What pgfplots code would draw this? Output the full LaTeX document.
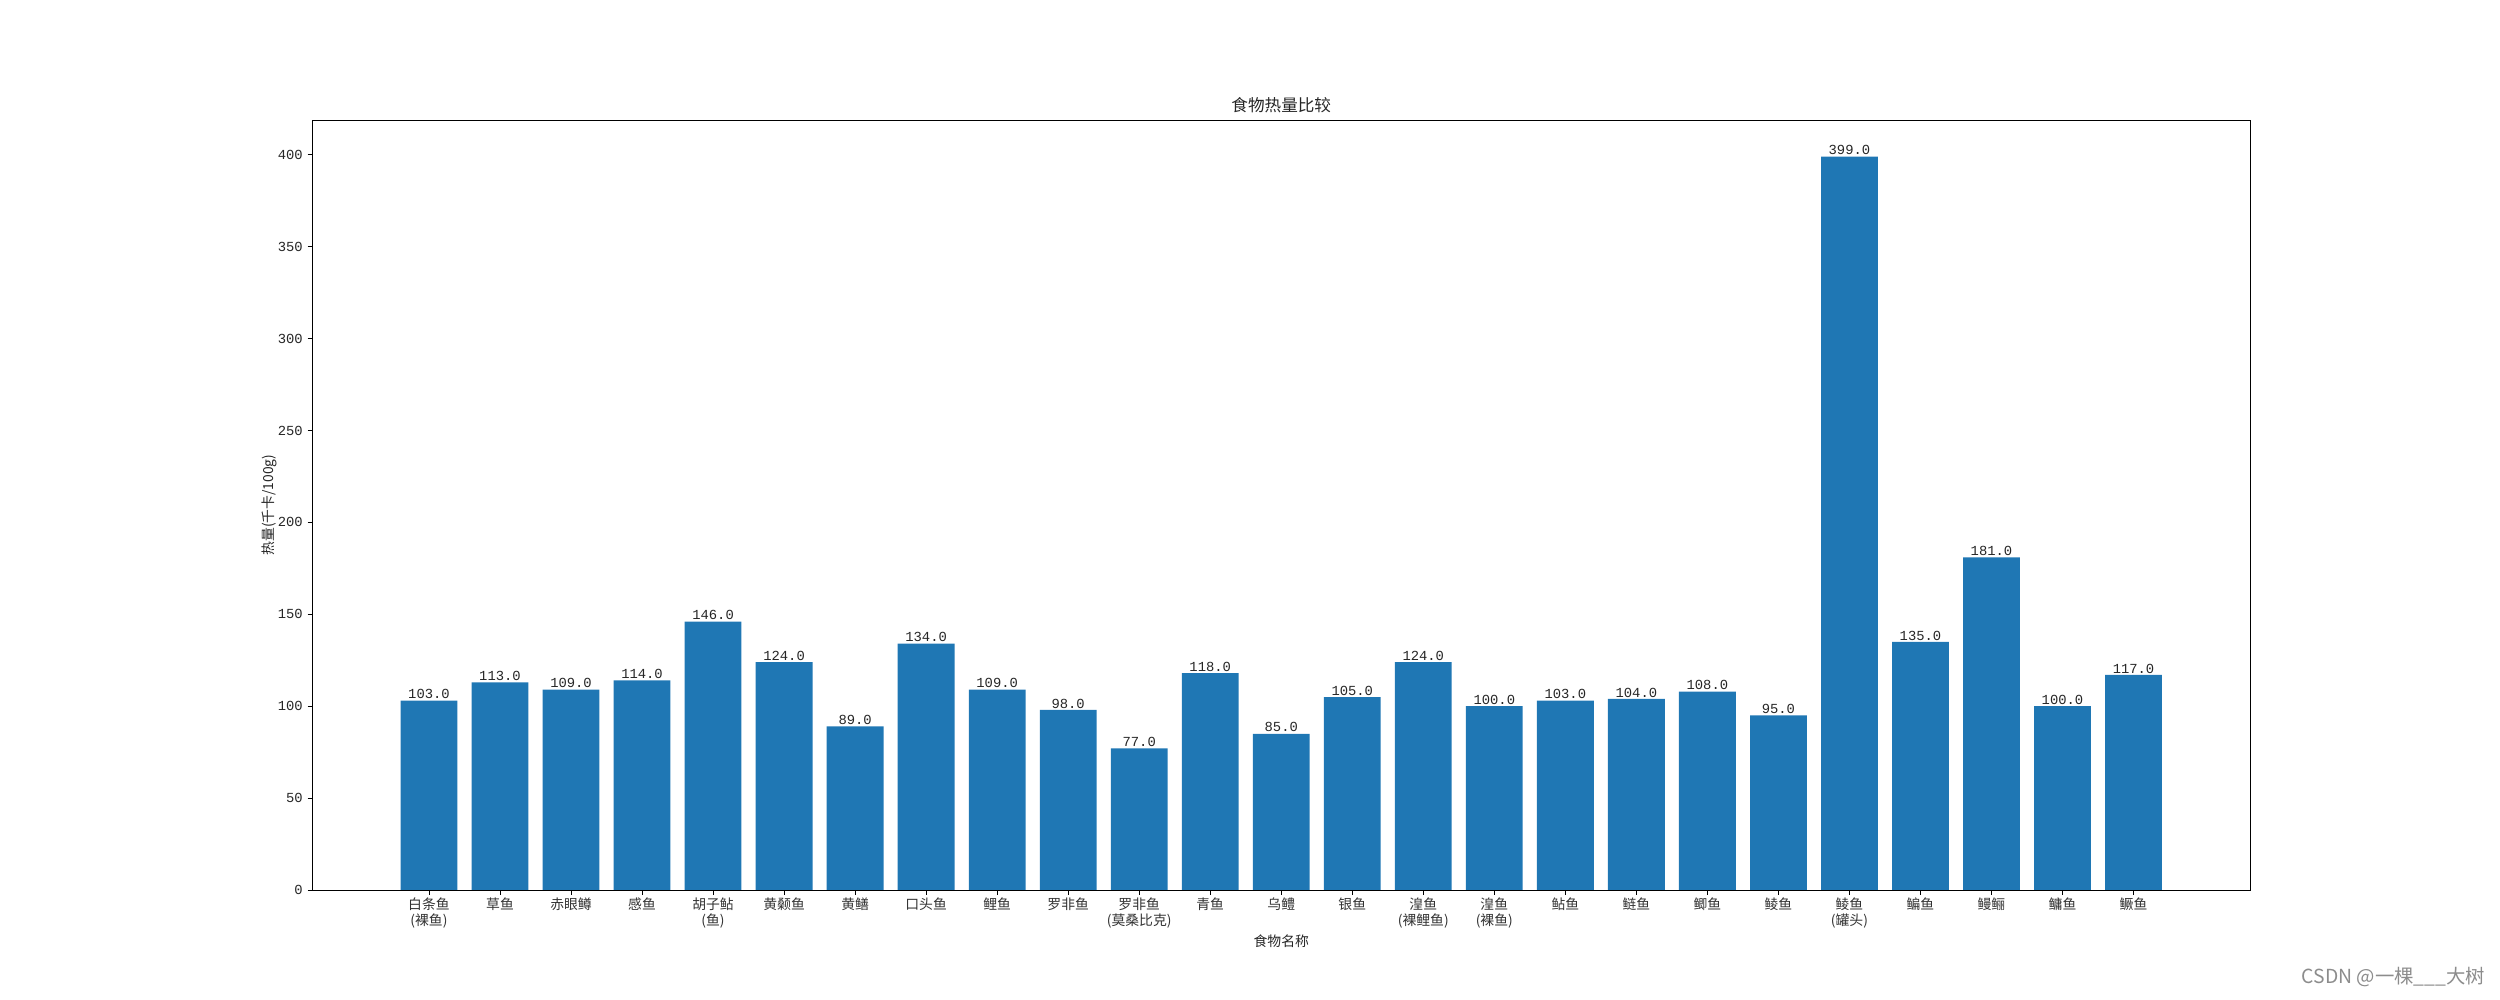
\documentclass[border=0pt]{standalone}
\usepackage{pgfplots}
\pgfplotsset{compat=1.18}
\usepackage{fontspec}
\setmainfont{Liberation Serif}
\setmonofont{Liberation Mono}
\newfontfamily\cjk{Noto Sans CJK SC}
\definecolor{mplblue}{HTML}{1F77B4}
\begin{document}
\begin{tikzpicture}
\path[use as bounding box] (0,0) rectangle (25in,10in);
\begin{axis}[
  at={(3.125in,1.1in)}, anchor=south west,
  scale only axis, width=19.375in, height=7.7in,
  ybar, bar width=0.8,
  xmin=-1.64, xmax=25.64, ymin=0, ymax=418.95,
  axis line style={line width=0.6pt},
  every tick/.style={black, line width=0.6pt},
  major tick length=3.5pt, tick align=outside,
  xtick pos=bottom, ytick pos=left,
  xtick={0,...,24},
  xticklabels={{白条鱼\\(裸鱼)},草鱼,赤眼鳟,感鱼,{胡子鲇\\(鱼)},黄颡鱼,黄鳝,口头鱼,鲤鱼,罗非鱼,{罗非鱼\\(莫桑比克)},青鱼,乌鳢,银鱼,{湟鱼\\(裸鲤鱼)},{湟鱼\\(裸鱼)},鲇鱼,鲢鱼,鲫鱼,鲮鱼,{鲮鱼\\(罐头)},鳊鱼,鳗鲡,鳙鱼,鳜鱼},
  xticklabel style={align=center, font=\cjk\fontsize{10}{11.5}\selectfont, text=black!80, inner sep=2pt},
  ytick={0,50,...,400},
  /pgf/number format/assume math mode=true,
  yticklabel style={font=\ttfamily\fontsize{10}{12}\selectfont, text=black!85},
  title={\cjk 食物热量比较},
  title style={at={(axis description cs:0.5,1)}, anchor=base, font=\fontsize{12}{14}\selectfont, text=black!85},
  xlabel={\cjk 食物名称},
  xlabel style={at={(axis description cs:0.5,0)}, anchor=center, yshift=-0.51in, font=\fontsize{10}{12}\selectfont, text=black!85},
  ylabel={\cjk 热量(千卡/100g)},
  ylabel style={at={(axis description cs:0,0.5)}, anchor=center, rotate=0, yshift=0.435in, font=\fontsize{10}{12}\selectfont, text=black!85},
  nodes near coords={\pgfmathprintnumber[fixed,fixed zerofill,precision=1]{\pgfplotspointmeta}},
  every node near coord/.append style={font=\ttfamily\fontsize{10}{12}\selectfont, anchor=south, inner sep=1pt, text=black!85},
]
\addplot[fill=mplblue, draw=none] coordinates {
(0,103) (1,113) (2,109) (3,114) (4,146) (5,124) (6,89) (7,134) (8,109) (9,98)
(10,77) (11,118) (12,85) (13,105) (14,124) (15,100) (16,103) (17,104) (18,108) (19,95)
(20,399) (21,135) (22,181) (23,100) (24,117)};
\end{axis}
\node[anchor=east, text=black!45, font=\cjk\fontsize{14}{16}\selectfont] at (24.9in,0.23in) {CSDN @一棵\_\_\_大树};
\end{tikzpicture}
\end{document}
